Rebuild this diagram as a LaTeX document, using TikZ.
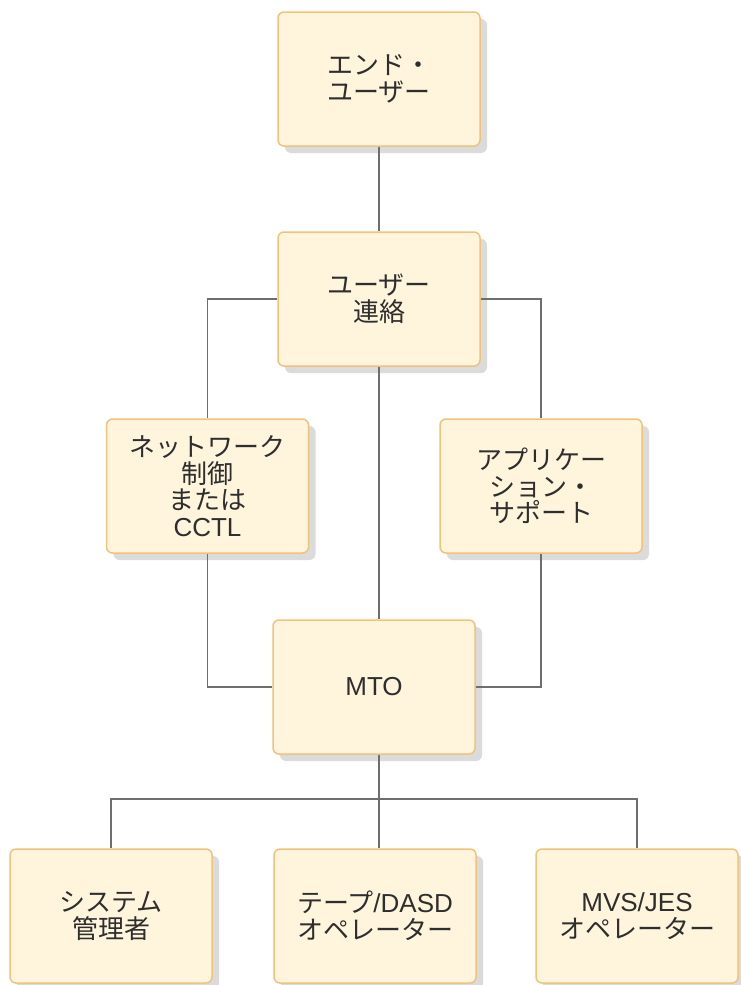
\documentclass[tikz,border=0pt]{standalone}
\usepackage{fontspec}
\setmainfont{Liberation Sans}
\newfontfamily\jp{Noto Sans CJK JP}
\usetikzlibrary{shadows}

\definecolor{boxfill}{HTML}{FEF5DC}
\definecolor{boxline}{HTML}{F0C27B}
\definecolor{wire}{HTML}{6E6E6E}
\definecolor{inktext}{HTML}{2E2E2E}
\newcommand{\lat}[1]{{\rmfamily #1}}

\tikzset{
	role/.style={draw=boxline, fill=boxfill, line width=1.5pt, rounded corners=6pt,
		minimum width=202pt, minimum height=134pt, align=center, text=inktext,
		font=\jp\fontsize{26}{26.5}\selectfont,
		drop shadow={shadow xshift=7pt, shadow yshift=-7pt, fill=black!14, opacity=1}},
	link/.style={draw=wire, line width=1.6pt}
}

\begin{document}
\begin{tikzpicture}[x=1pt, y=-1pt]
	\useasboundingbox (0, 0) rectangle (740, 985);

	\node[role] (enduser) at (379, 79) {エンド・\\ユーザー};
	\node[role] (contact) at (379, 299) {ユーザー\\連絡};
	\node[role] (network) at (207.5, 486) {ネットワーク\\制御\\または\\\lat{CCTL}};
	\node[role] (apps) at (541, 486) {アプリケー\\ション・\\サポート};
	\node[role] (mto) at (374, 687) {\lat{MTO}};
	\node[role] (sysadmin) at (111, 916) {システム\\管理者};
	\node[role] (tape) at (375, 916) {テープ\lat{/DASD}\\オペレーター};
	\node[role] (mvs) at (637, 916) {\lat{MVS/JES}\\オペレーター};

	\coordinate (bus) at (379, 799);

	\draw[link] (enduser.south) -- (contact.north);
	\draw[link] (contact.west) -| (network.north);
	\draw[link] (contact.east) -| (apps.north);
	\draw[link] (contact.south) -- (contact.south |- mto.north);
	\draw[link] (network.south) |- (mto.west);
	\draw[link] (apps.south) |- (mto.east);
	\draw[link] (bus |- mto.south) -- (bus) -- (bus |- tape.north);
	\draw[link] (sysadmin.north) |- (bus) -| (mvs.north);

\end{tikzpicture}
\end{document}
